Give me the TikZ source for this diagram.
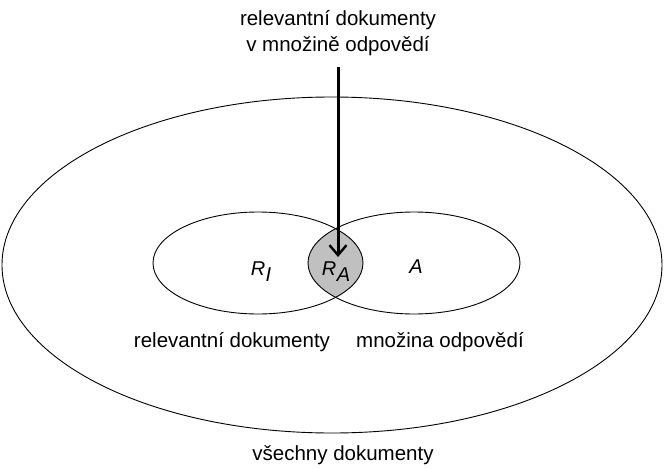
\documentclass[tikz,border=0pt]{standalone}
\usepackage{fontspec}
\setmainfont{Liberation Sans}
\usetikzlibrary{arrows.meta, positioning}
\definecolor{lensgray}{RGB}{192,192,192}
\newcommand{\lowsub}[2]{#1\kern0.5pt\raisebox{-6pt}{#2}}

\begin{document}
\begin{tikzpicture}[
    x=1pt, y=-1pt,
    set/.style={draw, line width=0.9pt},
    lbl/.style={font=\fontsize{20.5}{26}\selectfont, align=center, inner sep=0pt},
    sym/.style={font=\fontsize{20}{24}\selectfont\itshape, inner sep=0pt},
    arr/.style={-{Straight Barb[length=10pt, width=17pt, line width=2.4pt]}, line width=3pt}
]
\useasboundingbox (0,0) rectangle (665,469);

% lens R_A = intersection of the two sets
\begin{scope}
    \clip (258,263) ellipse [x radius=105, y radius=51];
    \fill[lensgray] (414,263) ellipse [x radius=106, y radius=51];
\end{scope}

\draw[set] (332,265) ellipse [x radius=330, y radius=168];
\draw[set] (258,263) ellipse [x radius=105, y radius=51];
\draw[set] (414,263) ellipse [x radius=106, y radius=51];

\node[lbl] (top) at (338,33) {relevantní dokumenty\\v množině odpovědí};
\node[lbl] (all) at (343,455) {všechny dokumenty};
\node[lbl] (rel) at (232,342) {relevantní dokumenty};
\node[lbl] (ans) at (440,342) {množina odpovědí};

\node[sym] (ri) at (261,272) {\lowsub{R}{I}};
\node[sym] (ra) at (336,272) {\lowsub{R}{A}};
\node[sym] (a) at (416,267) {A};

\coordinate (start) at (338,67);
\coordinate (hit) at (338,257);
\draw[arr] (start) -- (hit);
\end{tikzpicture}
\end{document}
